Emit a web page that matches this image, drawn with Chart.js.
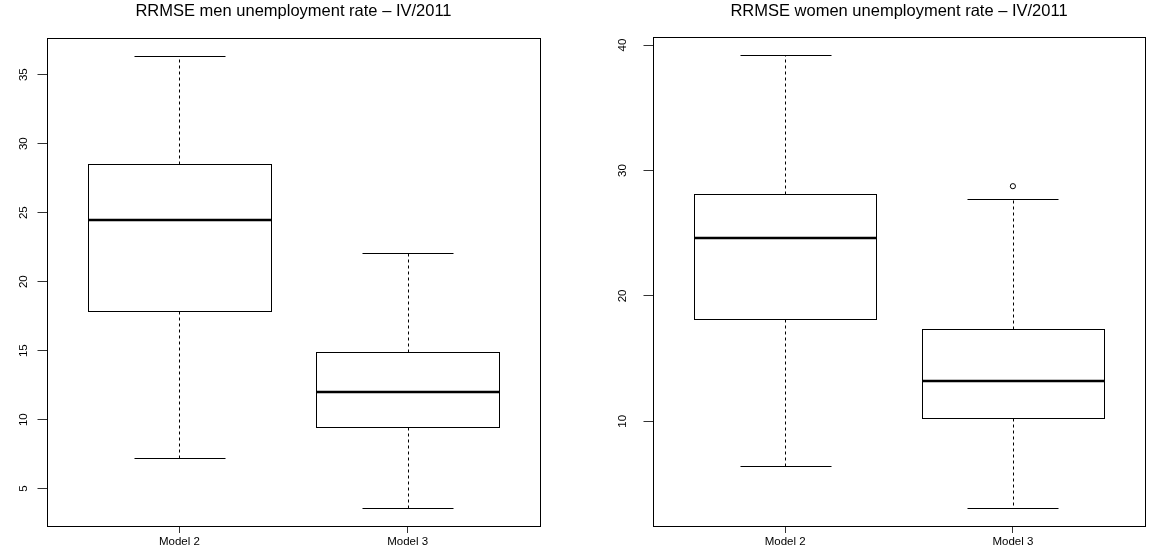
<!DOCTYPE html>
<html>
<head>
<meta charset="utf-8">
<script src="https://cdn.jsdelivr.net/npm/chart.js@4.4.1/dist/chart.umd.min.js"></script>
<style>
  html, body { margin: 0; padding: 0; background: #ffffff; }
  #wrap { position: relative; width: 1159px; height: 554px; overflow: hidden; }
  canvas { position: absolute; top: 0; }
</style>
</head>
<body>
<div id="wrap">
  <canvas id="men" width="580" height="554" style="left:0px"></canvas>
  <canvas id="women" width="579" height="554" style="left:580px"></canvas>
</div>
<script>
// Box categories
const categories = ['Model 2', 'Model 3'];

// RRMSE of men unemployment rate, IV/2011
const menLow    = [7.2, 3.6];
const menQ1     = [17.9, 9.45];
const menMedian = [24.5, 12.0];
const menQ3     = [28.55, 14.9];
const menHigh   = [36.35, 22.1];
const menOutliers = [[], []];
const menTicks  = [5, 10, 15, 20, 25, 30, 35];

// RRMSE of women unemployment rate, IV/2011
const womenLow    = [6.4, 3.1];
const womenQ1     = [18.15, 10.25];
const womenMedian = [24.6, 13.2];
const womenQ3     = [28.1, 17.35];
const womenHigh   = [39.2, 27.75];
const womenOutliers = [[], [28.75]];
const womenTicks  = [10, 20, 30, 40];

const FONT = "'Liberation Sans', Arial, Helvetica, sans-serif";
const TITLE_SIZE = 16.5;
const AXIS_SIZE = 11.5;
const BOX_HALF = 0.4;   // half box width in axis units
const CAP_HALF = 0.2;   // half whisker cap width

// Draws the boxes, whiskers, caps and medians from the stats through the chart scales
const boxplotPlugin = {
  id: 'boxplot',
  beforeDatasetsDraw(chart, args, opts) {
    const { ctx, chartArea, scales: { x, y } } = chart;
    const s = opts.stats;
    const al = (v) => Math.round(v) + 0.5;
    ctx.save();
    ctx.beginPath();
    ctx.rect(chartArea.left, chartArea.top, chartArea.width, chartArea.height);
    ctx.clip();
    ctx.strokeStyle = '#000';
    for (let i = 0; i < s.median.length; i++) {
      const pos = i + 1;
      const cx = al(x.getPixelForValue(pos));
      const bx0 = al(x.getPixelForValue(pos - BOX_HALF));
      const bx1 = al(x.getPixelForValue(pos + BOX_HALF));
      const cx0 = al(x.getPixelForValue(pos - CAP_HALF));
      const cx1 = al(x.getPixelForValue(pos + CAP_HALF));
      const yLow = al(y.getPixelForValue(s.low[i]));
      const yQ1 = al(y.getPixelForValue(s.q1[i]));
      const yMed = Math.round(y.getPixelForValue(s.median[i]));
      const yQ3 = al(y.getPixelForValue(s.q3[i]));
      const yHigh = al(y.getPixelForValue(s.high[i]));

      // dashed whiskers
      ctx.lineWidth = 1;
      ctx.setLineDash([3, 3]);
      ctx.beginPath();
      ctx.moveTo(cx, yQ3); ctx.lineTo(cx, yHigh);
      ctx.moveTo(cx, yQ1); ctx.lineTo(cx, yLow);
      ctx.stroke();

      // caps
      ctx.setLineDash([]);
      ctx.beginPath();
      ctx.moveTo(cx0, yHigh); ctx.lineTo(cx1, yHigh);
      ctx.moveTo(cx0, yLow); ctx.lineTo(cx1, yLow);
      ctx.stroke();

      // box
      ctx.fillStyle = '#fff';
      ctx.fillRect(bx0, yQ3, bx1 - bx0, yQ1 - yQ3);
      ctx.strokeRect(bx0, yQ3, bx1 - bx0, yQ1 - yQ3);

      // median
      ctx.lineWidth = 2.6;
      ctx.beginPath();
      ctx.moveTo(bx0, yMed); ctx.lineTo(bx1, yMed);
      ctx.stroke();
    }
    ctx.restore();
  },
  afterDraw(chart, args, opts) {
    const { ctx, chartArea, scales: { y } } = chart;
    ctx.save();
    // plot frame
    ctx.strokeStyle = '#000';
    ctx.lineWidth = 1;
    const l = Math.round(chartArea.left) + 0.5, t = Math.round(chartArea.top) + 0.5;
    const r = Math.round(chartArea.right) + 0.5, b = Math.round(chartArea.bottom) + 0.5;
    ctx.strokeRect(l, t, r - l, b - t);
    // rotated y tick labels
    ctx.fillStyle = '#000';
    ctx.font = AXIS_SIZE + 'px ' + FONT;
    ctx.textAlign = 'center';
    ctx.textBaseline = 'middle';
    y.ticks.forEach((tk) => {
      const py = y.getPixelForValue(tk.value);
      ctx.save();
      ctx.translate(chartArea.left - opts.labelGap, py);
      ctx.rotate(-Math.PI / 2);
      ctx.fillText(String(tk.value), 0, 0);
      ctx.restore();
    });
    ctx.restore();
  }
};

function makePanel(id, title, stats, outliers, yTicks, area, labelGap) {
  const canvas = document.getElementById(id);
  const W = canvas.width, H = canvas.height;
  const all = stats.low.concat(stats.high, outliers.flat());
  const lo = Math.min(...all), hi = Math.max(...all);
  const ext = (hi - lo) * 0.04;

  const outlierPoints = [];
  outliers.forEach((list, i) => list.forEach((v) => outlierPoints.push({ x: i + 1, y: v })));

  return new Chart(canvas, {
    type: 'scatter',
    data: {
      datasets: [{
        data: outlierPoints,
        pointStyle: 'circle',
        pointRadius: 2.6,
        pointBorderWidth: 1,
        pointBorderColor: '#000',
        pointBackgroundColor: 'rgba(0,0,0,0)',
        showLine: false
      }]
    },
    options: {
      responsive: false,
      animation: false,
      devicePixelRatio: 1,
      layout: { padding: { left: 0, top: 0, bottom: 0, right: W - area.right } },
      plugins: {
        legend: { display: false },
        tooltip: { enabled: false },
        title: {
          display: true,
          text: title,
          fullSize: false,
          color: '#000',
          font: { family: FONT, size: TITLE_SIZE, weight: 'normal', lineHeight: 1.2 },
          padding: { top: 2, bottom: area.top - 2 - TITLE_SIZE * 1.2 }
        },
        boxplot: { stats: stats, labelGap: labelGap }
      },
      scales: {
        x: {
          type: 'linear',
          min: 0.42,
          max: 2.58,
          afterBuildTicks: (scale) => { scale.ticks = categories.map((c, i) => ({ value: i + 1 })); },
          afterFit: (scale) => { scale.height = H - area.bottom; },
          ticks: {
            callback: (v) => categories[Math.round(v) - 1] || '',
            color: '#000',
            font: { family: FONT, size: AXIS_SIZE },
            padding: 2,
            maxRotation: 0,
            autoSkip: false
          },
          grid: { drawOnChartArea: false, drawTicks: true, tickLength: 7, color: '#333', lineWidth: 1 },
          border: { display: false }
        },
        y: {
          type: 'linear',
          min: lo - ext,
          max: hi + ext,
          afterBuildTicks: (scale) => { scale.ticks = yTicks.map((v) => ({ value: v })); },
          afterFit: (scale) => { scale.width = area.left; },
          ticks: { display: false },
          grid: { drawOnChartArea: false, drawTicks: true, tickLength: 9.5, color: '#333', lineWidth: 1 },
          border: { display: false }
        }
      }
    },
    plugins: [boxplotPlugin]
  });
}

makePanel('men', 'RRMSE men unemployment rate \u2013 IV/2011',
  { low: menLow, q1: menQ1, median: menMedian, q3: menQ3, high: menHigh },
  menOutliers, menTicks, { left: 47, top: 38, right: 540, bottom: 526 }, 23);

makePanel('women', 'RRMSE women unemployment rate \u2013 IV/2011',
  { low: womenLow, q1: womenQ1, median: womenMedian, q3: womenQ3, high: womenHigh },
  womenOutliers, womenTicks, { left: 73, top: 37, right: 565, bottom: 526 }, 30);
</script>
</body>
</html>
